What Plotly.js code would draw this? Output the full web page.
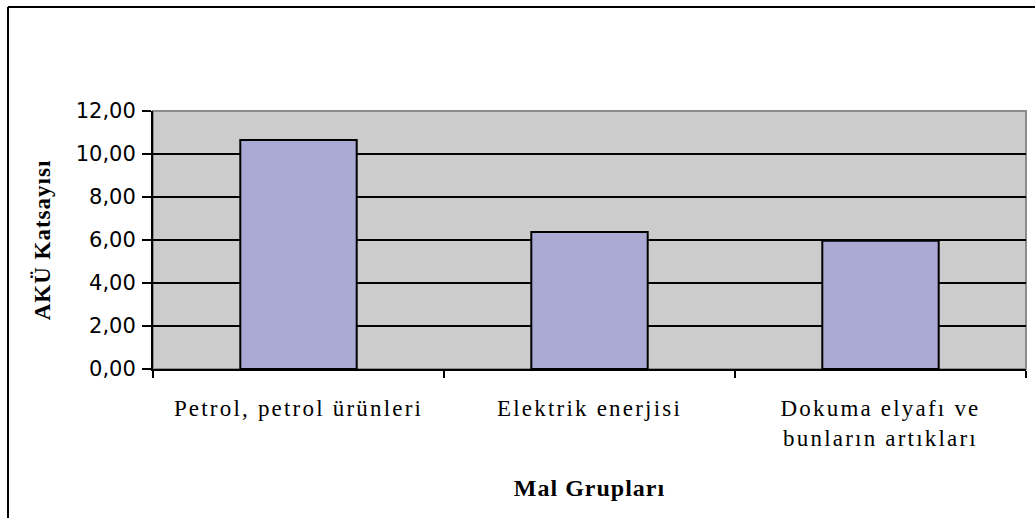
<!DOCTYPE html>
<html>
<head>
<meta charset="utf-8">
<script src="https://cdn.plot.ly/plotly-3.0.1.min.js"></script>
<style>
  html, body { margin: 0; padding: 0; background: #fff; overflow: hidden; }
  #chart { width: 1035px; height: 518px; }
  .xtick text { letter-spacing: 2.2px; }
  .g-xtitle text, .g-ytitle text { letter-spacing: 1px; }
</style>
</head>
<body>
<div id="chart"></div>
<script>
const categories = ["Petrol, petrol ürünleri", "Elektrik enerjisi", "Dokuma elyafı ve<br>bunların artıkları"];
const values = [10.65, 6.37, 5.97];
const yTickValues = [0, 2, 4, 6, 8, 10, 12];

const trace = {
  type: "bar",
  x: categories,
  y: values,
  marker: { color: "#AAAAD5", line: { color: "#000000", width: 2 } },
  hoverinfo: "skip"
};

// outer chart border (left and top edges only) in paper units
const W = 1035, H = 518, L = 153, R = 9, T = 111, B = 149;
const pw = W - L - R, ph = H - T - B;
const fx0 = (8 - L) / pw, fx1 = (W - L) / pw;
const fy1 = (H - B - 7) / ph, fy0 = (H - B - H) / ph;
const cx0 = (1028 - L) / pw;

const layout = {
  width: W,
  height: H,
  margin: { l: L, r: R, t: T, b: B, pad: 0 },
  paper_bgcolor: "#ffffff",
  plot_bgcolor: "#CCCCCC",
  separators: ",.",
  bargap: 0.6,
  showlegend: false,
  xaxis: {
    type: "category",
    tickson: "boundaries",
    ticks: "outside",
    ticklen: 7,
    tickwidth: 1.5,
    tickcolor: "#000",
    showline: true,
    linecolor: "#000",
    linewidth: 2,
    showgrid: false,
    zeroline: false,
    tickfont: { family: "Liberation Serif, Times New Roman, serif", size: 23, color: "#000" },
    ticklabelstandoff: 17,
    title: {
      text: "<b>Mal Grupları</b>",
      font: { family: "Liberation Serif, Times New Roman, serif", size: 24, color: "#000" },
      standoff: 30
    },
    automargin: false
  },
  yaxis: {
    range: [0, 12],
    tickvals: yTickValues,
    tickformat: ".2f",
    ticks: "outside",
    ticklen: 9,
    tickwidth: 1.5,
    tickcolor: "#000",
    showline: true,
    linecolor: "#000",
    linewidth: 2,
    showgrid: true,
    gridcolor: "#000",
    gridwidth: 1.5,
    zeroline: false,
    tickfont: { family: "DejaVu Sans, Tahoma, sans-serif", size: 21, color: "#000" },
    ticklabelstandoff: 2,
    title: {
      text: "<b>AKÜ Katsayısı</b>",
      font: { family: "Liberation Serif, Times New Roman, serif", size: 23, color: "#000" },
      standoff: 19
    },
    automargin: false
  },
  shapes: [
    { type: "rect", xref: "paper", yref: "paper", x0: 0, x1: 1, y0: 0, y1: 1,
      line: { color: "#8C8C8C", width: 2 }, fillcolor: "rgba(0,0,0,0)", layer: "below" },
    { type: "rect", xref: "paper", yref: "paper", x0: cx0, x1: fx1 + 0.02, y0: fy0 - 0.02, y1: fy1 - 0.01,
      line: { width: 0 }, fillcolor: "#ffffff", layer: "above" },
    { type: "line", xref: "paper", yref: "paper", x0: fx0, x1: fx0, y0: fy0, y1: fy1,
      line: { color: "#000", width: 2 } },
    { type: "line", xref: "paper", yref: "paper", x0: fx0, x1: fx1, y0: fy1, y1: fy1,
      line: { color: "#000", width: 2 } }
  ]
};

Plotly.newPlot("chart", [trace], layout, { staticPlot: true, displayModeBar: false });
</script>
</body>
</html>
